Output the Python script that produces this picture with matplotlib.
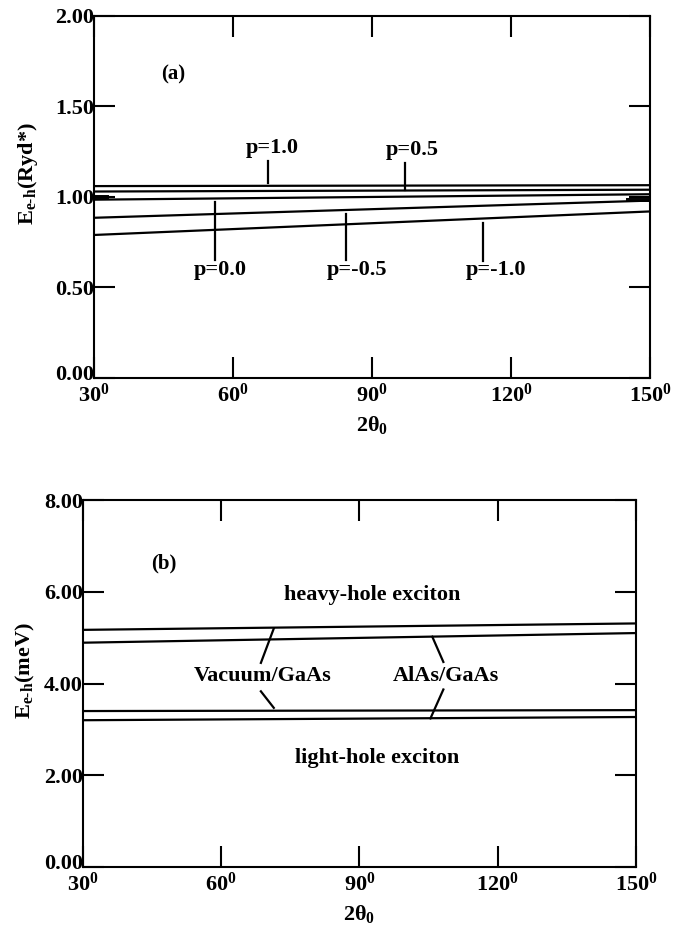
import numpy as np
import matplotlib
matplotlib.use("Agg")
import matplotlib.pyplot as plt
from matplotlib.transforms import ScaledTranslation

plt.rcParams['font.family'] = ['Liberation Serif', 'DejaVu Serif']
plt.rcParams['font.weight'] = 'bold'
plt.rcParams['mathtext.fontset'] = 'custom'
plt.rcParams['mathtext.rm'] = 'Liberation Serif:bold'
plt.rcParams['mathtext.bf'] = 'Liberation Serif:bold'
plt.rcParams['mathtext.it'] = 'Liberation Serif:bold'

# angle axis (2 theta_0, degrees)
angle = [30, 150]

# panel (a): E_e-h in Ryd* for different p
p_labels = ['p=1.0', 'p=0.5', 'p=0.0', 'p=-0.5', 'p=-1.0']
e_ryd = [[1.06, 1.065],
         [1.03, 1.04],
         [0.985, 1.015],
         [0.885, 0.98],
         [0.79, 0.92]]
# small marks near the side axes
edge_x = [[30, 33], [30, 33], [145, 150], [145, 150]]
edge_y = [1.005, 0.995, 0.99, 0.98]
# pointer: x, y_start, y_end ; text position
p_ptr_x = [67.5, 97.1, 56.1, 84.5, 114.0]
p_ptr_y = [[1.20, 1.075], [1.19, 1.037], [0.972, 0.653], [0.908, 0.65], [0.856, 0.644]]
p_txt = [(68.4, 1.27), (98.7, 1.26), (57.2, 0.595), (86.8, 0.595), (116.7, 0.595)]

# panel (b): E_e-h in meV
b_names = ['Vacuum/GaAs hh', 'AlAs/GaAs hh', 'Vacuum/GaAs lh', 'AlAs/GaAs lh']
e_mev = [[5.17, 5.31],
         [4.89, 5.10],
         [3.40, 3.42],
         [3.20, 3.27]]
b_ptr = [[(68.6, 4.45), (71.4, 5.20)],
         [(68.6, 3.83), (71.4, 3.47)],
         [(108.2, 4.47), (105.8, 5.02)],
         [(108.2, 3.87), (105.4, 3.24)]]

xticks = [30, 60, 90, 120, 150]
xticklabels = [r'$\mathbf{%d^0}$' % v for v in xticks]

fig = plt.figure(figsize=(6.76, 9.26), dpi=100)
ax1 = fig.add_axes([0.139, 0.5918, 0.8225, 0.391])
ax2 = fig.add_axes([0.1228, 0.0637, 0.818, 0.3963])


def style(ax, yticks, ylabel, lx, ly):
    ax.set_xlim(30, 150)
    ax.set_xticks(xticks)
    ax.set_xticklabels(xticklabels, fontsize=16)
    ax.set_yticks(yticks)
    ax.set_yticklabels(['%.2f' % v for v in yticks], fontsize=16, fontweight='bold')
    ax.set_ylim(yticks[0], yticks[-1])
    ax.tick_params(direction='in', length=15, width=1.5, top=True, right=True)
    ax.tick_params(axis='y', pad=0)
    ax.tick_params(axis='x', pad=4)
    for s in ax.spines.values():
        s.set_linewidth(1.5)
    # lift the lowest y label a bit so it clears the first x label
    lab0 = ax.get_yticklabels()[0]
    lab0.set_transform(lab0.get_transform() + ScaledTranslation(0, 4 / 72, fig.dpi_scale_trans))
    ax.set_xlabel(r'2θ$_0$', fontsize=16, fontweight='bold', labelpad=5)
    ax.set_ylabel(ylabel, fontsize=16, fontweight='bold')
    ax.yaxis.set_label_coords(lx, ly)


style(ax1, [0.0, 0.5, 1.0, 1.5, 2.0], r'E$_{\text{e-h}}$(Ryd*)', -0.097, 0.565)
for ys in e_ryd:
    ax1.plot(angle, ys, color='black', lw=1.6)
for xs, y in zip(edge_x, edge_y):
    ax1.plot(xs, [y, y], color='black', lw=1.4)
for lab, x, yy, t in zip(p_labels, p_ptr_x, p_ptr_y, p_txt):
    ax1.plot([x, x], yy, color='black', lw=1.6)
    ax1.text(t[0], t[1], lab, ha='center', va='center', fontsize=16, fontweight='bold')
ax1.text(47, 1.677, '(a)', ha='center', va='center', fontsize=15, fontweight='bold')

style(ax2, [0.0, 2.0, 4.0, 6.0, 8.0], r'E$_{\text{e-h}}$(meV)', -0.083, 0.535)
for ys in e_mev:
    ax2.plot(angle, ys, color='black', lw=1.6)
for seg in b_ptr:
    ax2.plot([seg[0][0], seg[1][0]], [seg[0][1], seg[1][1]], color='black', lw=1.6)
ax2.text(69.0, 4.16, 'Vacuum/GaAs', ha='center', va='center', fontsize=16, fontweight='bold')
ax2.text(108.8, 4.16, 'AlAs/GaAs', ha='center', va='center', fontsize=16, fontweight='bold')
ax2.text(92.8, 5.93, 'heavy-hole exciton', ha='center', va='center', fontsize=16, fontweight='bold')
ax2.text(93.9, 2.37, 'light-hole exciton', ha='center', va='center', fontsize=16, fontweight='bold')
ax2.text(47.5, 6.62, '(b)', ha='center', va='center', fontsize=15, fontweight='bold')

fig.savefig('out.png', dpi=100)
